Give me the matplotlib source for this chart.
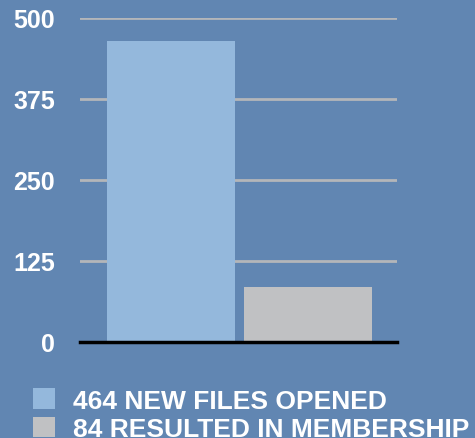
import matplotlib.pyplot as plt

plt.rcParams['font.family'] = ['Liberation Sans', 'DejaVu Sans']
plt.rcParams['font.weight'] = 'bold'

categories = ['NEW FILES OPENED', 'RESULTED IN MEMBERSHIP']
values = [464, 84]
colors = ['#94b8dc', '#c0c1c3']
yticks = [0, 125, 250, 375, 500]

bg = '#6186b2'
fig = plt.figure(figsize=(4.75, 4.39), dpi=100, facecolor=bg)
ax = fig.add_axes([0.168, 0.219, 0.667, 0.738], facecolor=bg)

bars = ax.bar(range(len(values)), values, width=0.934, color=colors, zorder=2)

ax.set_xlim(-0.664, 1.65)
ax.set_ylim(0, 500)
ax.set_yticks(yticks)
ax.set_yticklabels([str(t) for t in yticks], fontweight='bold', color='white', fontsize=18)
ax.set_xticks([])
ax.grid(axis='y', color='#b4b6b9', linewidth=2, zorder=1)
ax.axhline(0, color='black', linewidth=2.5, zorder=3, clip_on=False)
for s in ax.spines.values():
    s.set_visible(False)
ax.tick_params(axis='y', length=0, pad=18)

labels = [f'{v} {c}' for v, c in zip(values, categories)]
fig.legend(bars, labels, loc='upper left', bbox_to_anchor=(0.07, 0.113),
           frameon=False, handlelength=0.82, handleheight=0.82, handletextpad=0.7,
           labelspacing=0.15, borderaxespad=0, borderpad=0,
           prop={'size': 19, 'weight': 'bold'}, labelcolor='white')

fig.savefig('out.png', dpi=100, facecolor=bg)
